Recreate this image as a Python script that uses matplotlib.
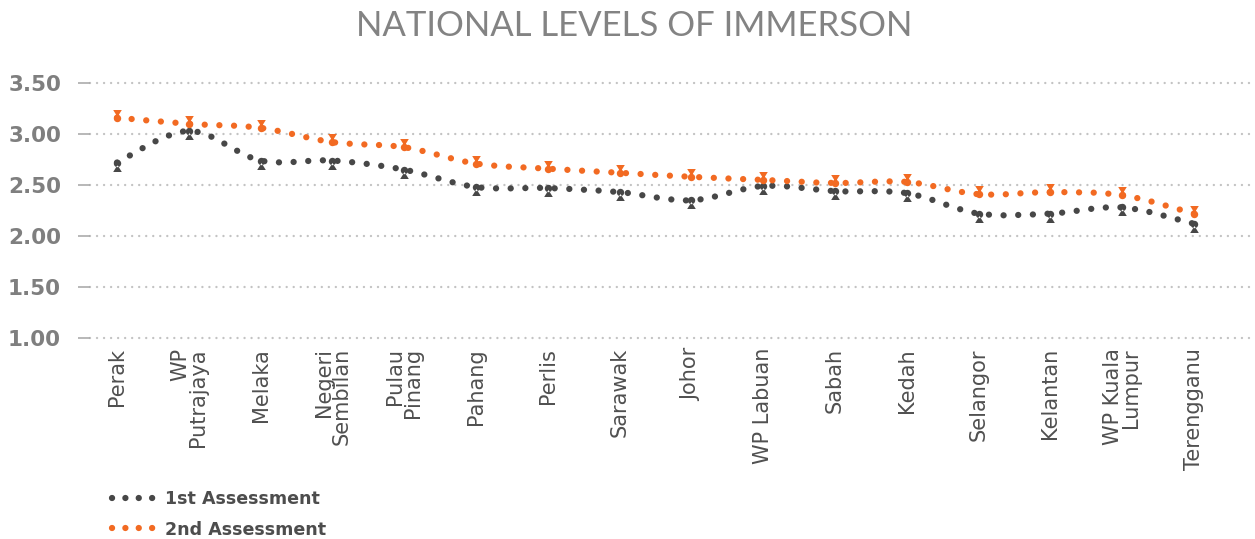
#!/usr/bin/env python3
# -*- coding: utf-8 -*-
'''
National levels of immersion: 1st vs 2nd assessment by state.
'''
import numpy as np
import matplotlib
matplotlib.use('Agg')
import matplotlib.pyplot as plt
from matplotlib.path import Path
from matplotlib.patches import PathPatch
from matplotlib.lines import Line2D

states = ['Perak', 'WP\nPutrajaya', 'Melaka', 'Negeri\nSembilan', 'Pulau\nPinang',
          'Pahang', 'Perlis', 'Sarawak', 'Johor', 'WP Labuan', 'Sabah', 'Kedah',
          'Selangor', 'Kelantan', 'WP Kuala\nLumpur', 'Terengganu']
first_assessment = [2.72, 3.03, 2.74, 2.74, 2.65, 2.48, 2.47, 2.43,
                    2.35, 2.49, 2.44, 2.42, 2.22, 2.22, 2.28, 2.12]
second_assessment = [3.16, 3.10, 3.06, 2.92, 2.87, 2.71, 2.66, 2.62,
                     2.58, 2.55, 2.52, 2.53, 2.41, 2.43, 2.40, 2.22]
yticks = [1.00, 1.50, 2.00, 2.50, 3.00, 3.50]

GREY = '#474747'
ORANGE = '#f26a22'
DPI = 100
PX = 72.0 / DPI  # points per pixel

plt.rcParams['font.family'] = ['DejaVu Sans']


def smooth_path(xs, ys):
    '''Catmull-Rom style bezier path through the points (Excel "smoothed line").'''
    pts = np.column_stack([xs, ys]).astype(float)
    n = len(pts)
    verts = [pts[0]]
    codes = [Path.MOVETO]
    for i in range(n - 1):
        p0 = pts[max(i - 1, 0)]
        p1 = pts[i]
        p2 = pts[i + 1]
        p3 = pts[min(i + 2, n - 1)]
        verts += [p1 + (p2 - p0) / 6.0, p2 - (p3 - p1) / 6.0, p2]
        codes += [Path.CURVE4] * 3
    return Path(verts, codes)


def pin_marker(up):
    '''Circle with a small triangle below it (up) or above it (down), in pixels.'''
    circ = Path.circle((0, 0), 3.7)
    s = 1 if up else -1
    tri = Path([(0, -1.5 * s), (4.3, -8.5 * s), (-4.3, -8.5 * s), (0, -1.5 * s)],
               [Path.MOVETO, Path.LINETO, Path.LINETO, Path.CLOSEPOLY])
    return Path.make_compound_path(circ, tri)


fig = plt.figure(figsize=(12.55, 5.39), dpi=DPI)
W, H = 1255.0, 539.0
y_lo, y_hi = 0.95, 3.55
ppu = 102.0  # pixels per unit on y
bottom_px = 338 + (1.00 - y_lo) * ppu
top_px = 83 - (y_hi - 3.50) * ppu
left_px, right_px = 90, 1252
ax = fig.add_axes([left_px / W, 1 - bottom_px / H,
                   (right_px - left_px) / W, (bottom_px - top_px) / H])

x = np.arange(len(states))
spacing = 71.8
ax.set_xlim(-(117 - left_px) / spacing, 15 + (right_px - 1194) / spacing)
ax.set_ylim(y_lo, y_hi)

dot_lw = 6.3 * PX
dot_style = (0, (0.01, 14.6 / 6.3))
for vals, col, up in [(first_assessment, GREY, True), (second_assessment, ORANGE, False)]:
    patch = PathPatch(smooth_path(x, vals), facecolor='none', edgecolor=col,
                      lw=dot_lw, linestyle=dot_style, capstyle='round', zorder=3)
    ax.add_patch(patch)
    ax.plot(x, vals, linestyle='none', marker=pin_marker(up), markersize=17 * PX,
            color=col, markeredgewidth=0, zorder=4)

# dotted grid
for v in yticks:
    ax.axhline(v, color='#c3c3c3', lw=2.4 * PX, linestyle=(0, (0.01, 7.0 / 2.4)),
               dash_capstyle='round', zorder=1, clip_on=False)

for s in ax.spines.values():
    s.set_visible(False)

ax.set_yticks(yticks)
ax.set_yticklabels(['%.2f' % v for v in yticks])
ax.tick_params(axis='y', length=12 * PX, width=1.6 * PX, color='#a8a8a8', pad=17 * PX,
               labelsize=15.5, labelcolor='#7f7f7f', direction='out')
for lbl in ax.get_yticklabels():
    lbl.set_fontweight('bold')

ax.set_xticks(x)
ax.set_xticklabels(states, rotation=90, va='top', ha='center', multialignment='right',
                   linespacing=0.85)
ax.tick_params(axis='x', length=0, pad=5 * PX, labelsize=15, labelcolor='#505050')

fig.text(0.505, 1 - 36 / H, 'NATIONAL LEVELS OF IMMERSON', ha='center', va='baseline',
         fontsize=25, color='#838383', family=['Lato', 'DejaVu Sans'])

leg_style = (0, (0.01, 13.3 / 6.3))
handles = [Line2D([], [], color=GREY, lw=dot_lw, linestyle=leg_style, dash_capstyle='round'),
           Line2D([], [], color=ORANGE, lw=dot_lw, linestyle=leg_style, dash_capstyle='round')]
leg = fig.legend(handles, ['1st Assessment', '2nd Assessment'], loc='upper left',
                 bbox_to_anchor=(112 / W, 1 - 490 / H), frameon=False,
                 prop={'size': 12.6, 'weight': 'bold'}, handlelength=2.4,
                 handletextpad=0.65, labelspacing=0.72, borderaxespad=0, borderpad=0)
for t in leg.get_texts():
    t.set_color('#4d4d4d')

fig.savefig('out.png', dpi=DPI)
